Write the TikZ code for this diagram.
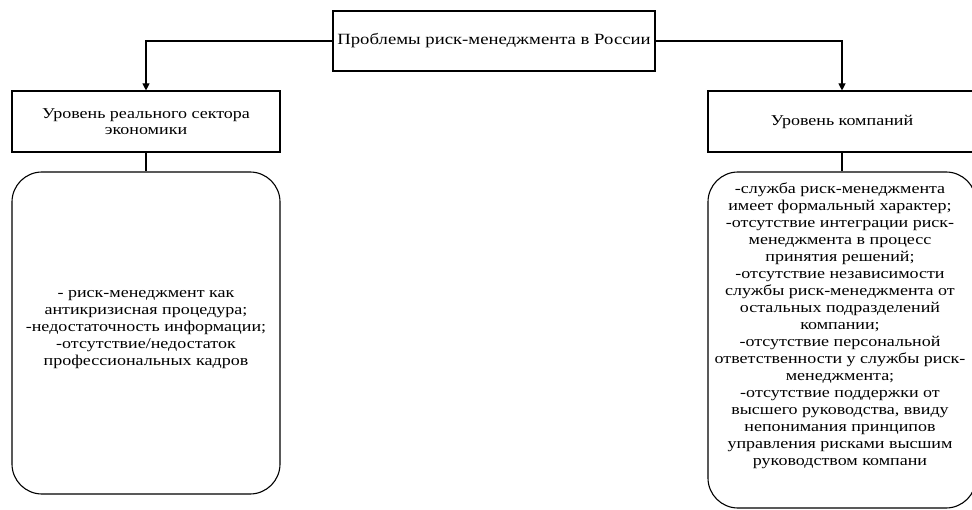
\documentclass[tikz,border=0pt]{standalone}
\usepackage{fontspec}
\setmainfont[FakeStretch=1.2]{Liberation Serif}
\usetikzlibrary{arrows.meta}
\tikzset{
  x=1pt,y=-1pt,
  box/.style={draw=black,line width=1.1pt,rectangle,inner sep=2pt,align=center,
    font=\fontsize{15}{16.5}\selectfont},
  rbox/.style={box,rounded corners=30pt},
  txt/.style={align=center,inner sep=0pt,font=\fontsize{15}{17}\selectfont},
  conn/.style={draw=black,line width=1.1pt},
  arr/.style={conn,-{Triangle[width=7pt,length=7pt]}}
}
\begin{document}
\begin{tikzpicture}
\useasboundingbox (0,0) rectangle (972,510);
\clip (0,0) rectangle (972,510);
\node[box,minimum width=322pt,minimum height=60pt,font=\fontsize{15.6}{17}\selectfont] (top) at (494,41) {Проблемы риск-менеджмента в России};
\node[box,minimum width=268pt,minimum height=61pt] (lvl1) at (146,121.5) {Уровень реального сектора\\экономики};
\node[box,minimum width=268pt,minimum height=61pt] (lvl2) at (842,121.5) {Уровень компаний};
\node[rbox,minimum width=268pt,minimum height=322pt] (rb1) at (146,333) {};
\node[txt] (rb1t) at (146,330) {- риск-менеджмент как\\антикризисная процедура;\\-недостаточность информации;\\-отсутствие/недостаток\\профессиональных кадров};
\node[rbox,minimum width=268pt,minimum height=336pt] (rb2) at (842,340) {};
\node[txt,anchor=north] (rb2t) at (840,183) {-служба риск-менеджмента\\имеет формальный характер;\\-отсутствие интеграции риск-\\менеджмента в процесс\\принятия решений;\\-отсутствие независимости\\службы риск-менеджмента от\\остальных подразделений\\компании;\\-отсутствие персональной\\ответственности у службы риск-\\менеджмента;\\-отсутствие поддержки от\\высшего руководства, ввиду\\непонимания принципов\\управления рисками высшим\\руководством компани};
\draw[arr] (top.west) -| (lvl1.north);
\draw[arr] (top.east) -| (lvl2.north);
\draw[conn] (lvl1.south) -- (rb1.north);
\draw[conn] (lvl2.south) -- (rb2.north);
\end{tikzpicture}
\end{document}
